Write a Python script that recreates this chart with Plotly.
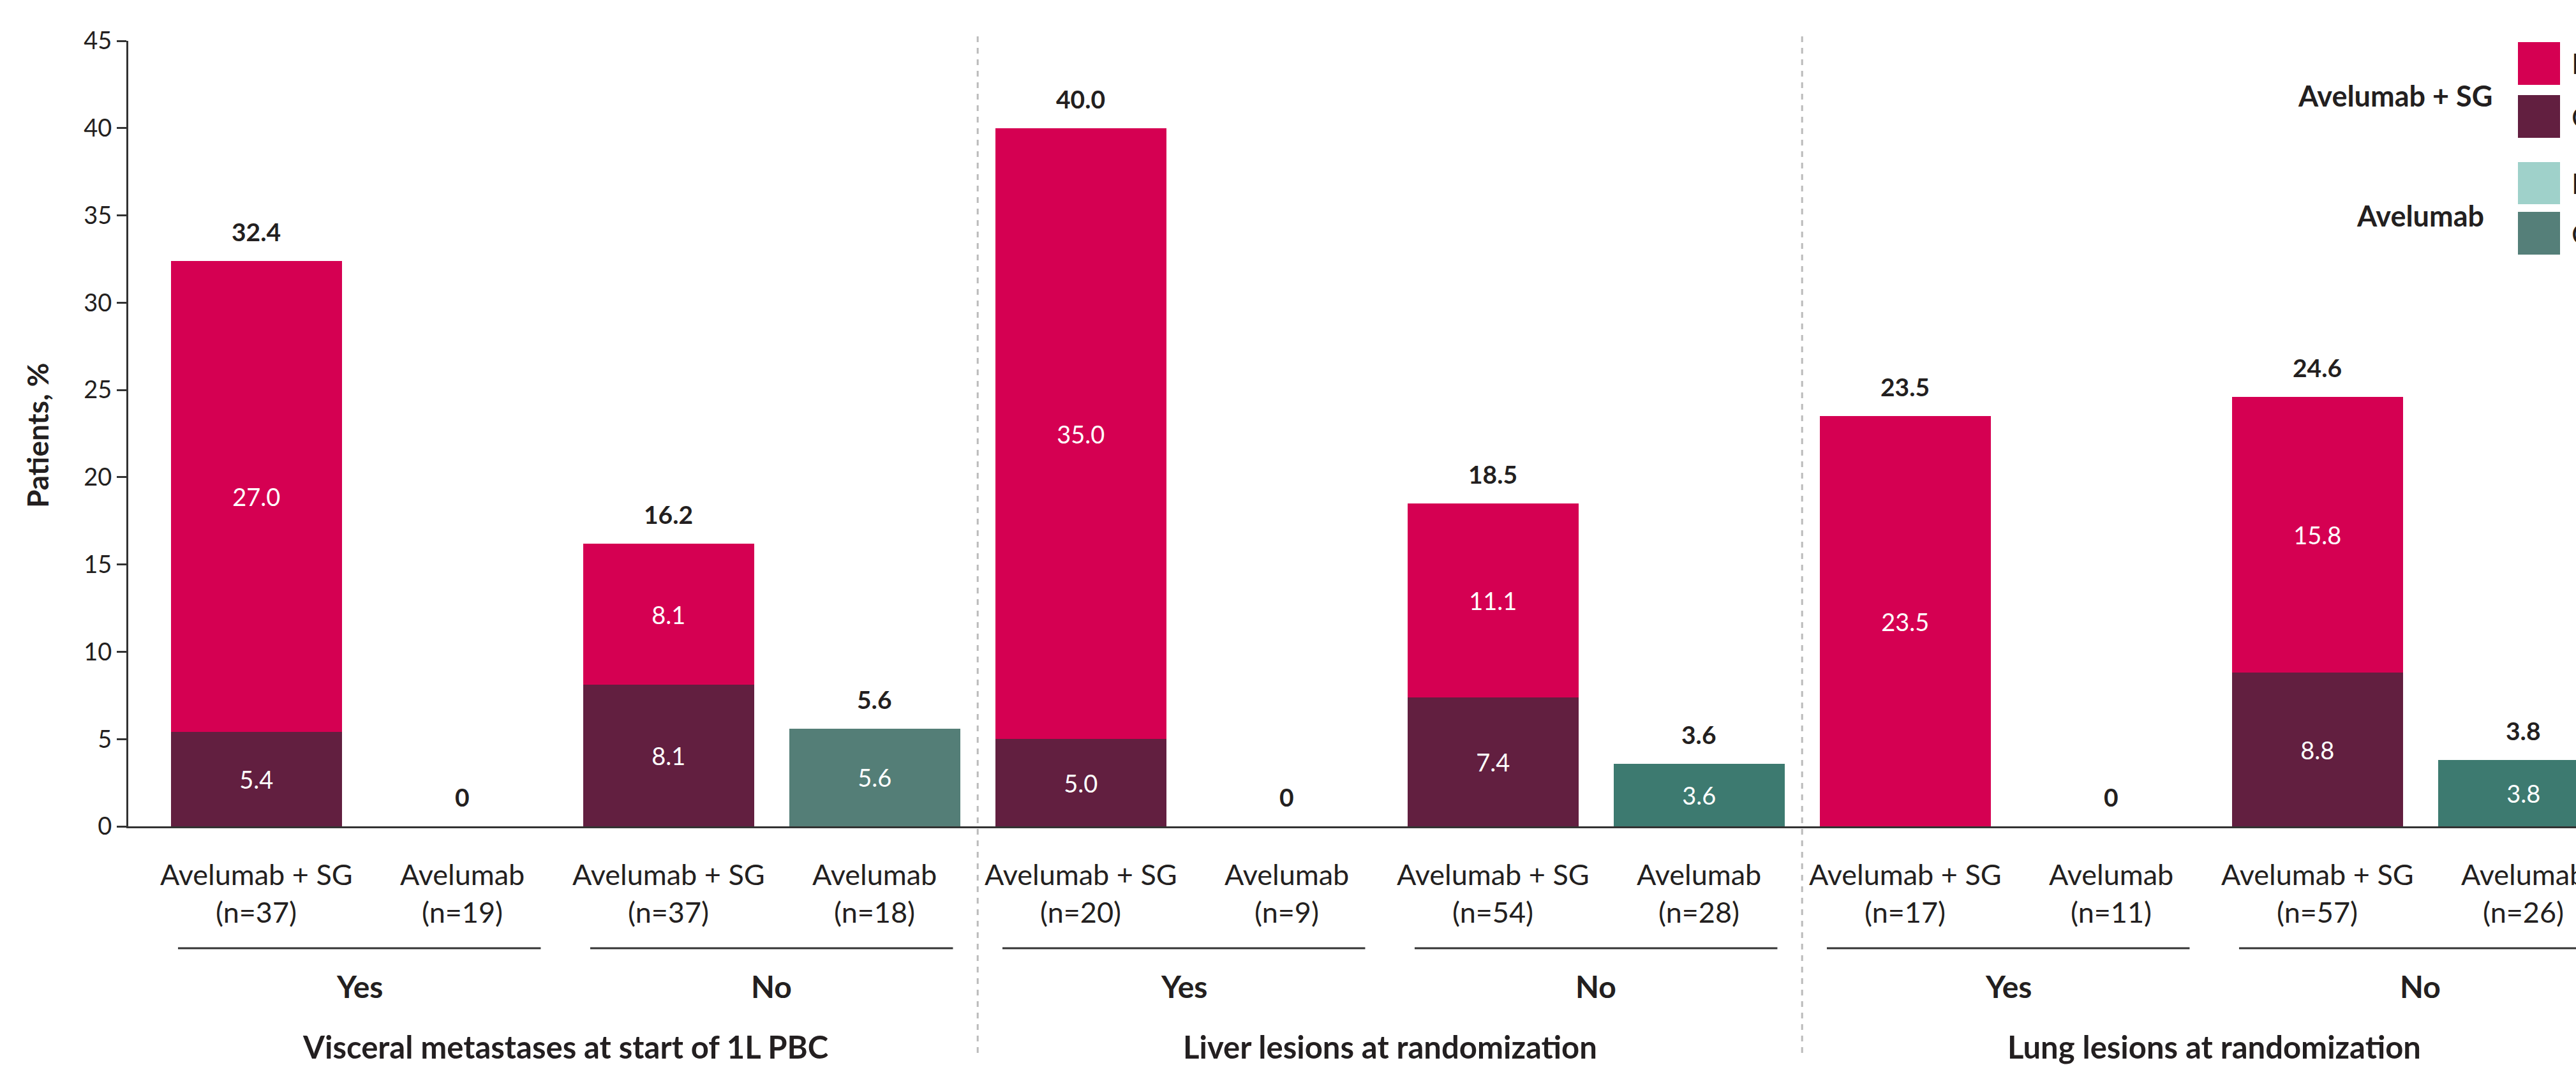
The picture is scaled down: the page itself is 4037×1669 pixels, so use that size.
import plotly.graph_objects as go

# ---------------- data ----------------
arm_labels = ["Avelumab + SG", "Avelumab"] * 6
n_labels = ["(n=37)", "(n=19)", "(n=37)", "(n=18)",
            "(n=20)", "(n=9)", "(n=54)", "(n=28)",
            "(n=17)", "(n=11)", "(n=57)", "(n=26)"]
subgroup_labels = ["Yes", "No", "Yes", "No", "Yes", "No"]
section_labels = ["Visceral metastases at start of 1L PBC",
                  "Liver lesions at randomization",
                  "Lung lesions at randomization"]

sg_cr = [5.4, 8.1, 5.0, 7.4, 0.0, 8.8]
sg_pr = [27.0, 8.1, 35.0, 11.1, 23.5, 15.8]
ave_cr = [0.0, 5.6, 0.0, 3.6, 0.0, 3.8]
ave_pr = [0.0, 0.0, 0.0, 0.0, 0.0, 0.0]
totals = [32.4, 0, 16.2, 5.6, 40.0, 0, 18.5, 3.6, 23.5, 0, 24.6, 3.8]

legend_groups = ["Avelumab + SG", "Avelumab"]
legend_items = ["PR", "CR"]

# ---------------- styles ----------------
PINK = "#D50052"
PLUM = "#621F40"
LTEAL = "#9FD1CA"
DTEAL_LEG = "#557F79"
ave_cr_colors = ["#547E77", "#547E77", "#3D7A70", "#3D7A70", "#3D7A70", "#3D7A70"]
TXT = "#231F20"
FONT = "Lato"

W, H = 4037, 1669
L, R, T, B = 201, 0, 64, 374
PW = W - L - R
PH = H - T - B


def px(xp):
    return (xp - L) / PW


def py(yp):
    return (H - B - yp) / PH


sg_x = list(range(0, 12, 2))
ave_x = list(range(1, 12, 2))
BW = 0.83


def lab(v):
    return [f"{x:.1f}" if x > 0 else "" for x in v]


fig = go.Figure()
for xs, ys, col in [(sg_x, sg_cr, PLUM), (sg_x, sg_pr, PINK), (ave_x, ave_cr, ave_cr_colors), (ave_x, ave_pr, LTEAL)]:
    fig.add_trace(go.Bar(x=xs, y=ys, width=BW, marker=dict(color=col, line=dict(width=0)),
                         text=lab(ys), textposition="inside", insidetextanchor="middle",
                         insidetextfont=dict(color="white", size=38, family=FONT)))

ann = []
shapes = []
# totals above bars
for i, t in enumerate(totals):
    ann.append(dict(x=i, y=t, xref="x", yref="y", text=f"<b>{t:.1f}</b>" if t > 0 else "<b>0</b>",
                    showarrow=False, yanchor="middle", yshift=46,
                    font=dict(size=39, color=TXT, family=FONT)))
# category labels
for i in range(12):
    ann.append(dict(x=i, y=py(1370), xref="x", yref="paper", text=arm_labels[i], showarrow=False,
                    yanchor="middle", font=dict(size=45, color=TXT, family=FONT)))
    ann.append(dict(x=i, y=py(1429), xref="x", yref="paper", text=n_labels[i], showarrow=False,
                    yanchor="middle", font=dict(size=45, color=TXT, family=FONT)))
# subgroup labels & lines
for g in range(6):
    i0, i1 = 2 * g, 2 * g + 1
    shapes.append(dict(type="line", xref="x", yref="paper", x0=i0 - 0.38, x1=i1 + 0.38,
                       y0=py(1486), y1=py(1486), line=dict(color="#333333", width=3)))
    ann.append(dict(x=(i0 + i1) / 2, y=py(1545), xref="x", yref="paper",
                    text=f"<b>{subgroup_labels[g]}</b>", showarrow=False, yanchor="middle",
                    font=dict(size=48, color=TXT, family=FONT)))
# section labels & dividers
for s in range(3):
    ann.append(dict(x=4 * s + 1.5, y=py(1640), xref="x", yref="paper",
                    text=f"<b>{section_labels[s]}</b>", showarrow=False, yanchor="middle",
                    font=dict(size=49, color=TXT, family=FONT)))
for d in [3.5, 7.5]:
    shapes.append(dict(type="line", xref="x", yref="paper", x0=d, x1=d,
                       y0=py(1650), y1=py(50), line=dict(color="#BBBBBB", width=3, dash="dash")))

# y-axis title
ann.append(dict(x=px(58), y=py(682), xref="paper", yref="paper", text="<b>Patients, %</b>",
                textangle=-90, showarrow=False, xanchor="center", yanchor="middle",
                font=dict(size=46, color=TXT, family=FONT)))

# legend (cropped at right edge like the reference)
sq = [(66, 133, PINK), (149, 216, PLUM), (254, 320, LTEAL), (332, 399, DTEAL_LEG)]
for (y0, y1, c) in sq:
    shapes.append(dict(type="rect", xref="paper", yref="paper", x0=px(3946), x1=px(4012),
                       y0=py(y1), y1=py(y0), fillcolor=c, line=dict(width=0)))
for k, (y0, y1, c) in enumerate(sq):
    ann.append(dict(x=px(4028), y=py((y0 + y1) / 2), xref="paper", yref="paper",
                    text=legend_items[k % 2], showarrow=False, xanchor="left", yanchor="middle",
                    font=dict(size=44, color=TXT, family=FONT)))
ann.append(dict(x=px(3908), y=py(150), xref="paper", yref="paper", text=f"<b>{legend_groups[0]}</b>",
                showarrow=False, xanchor="right", yanchor="middle", font=dict(size=45, color=TXT, family=FONT)))
ann.append(dict(x=px(3895), y=py(338), xref="paper", yref="paper", text=f"<b>{legend_groups[1]}</b>",
                showarrow=False, xanchor="right", yanchor="middle", font=dict(size=45, color=TXT, family=FONT)))

x0r = (L - 401.7) / 323.0
x1r = (W - R - 401.7) / 323.0

fig.update_layout(
    width=W, height=H, barmode="stack", showlegend=False,
    margin=dict(l=L, r=R, t=T, b=B, pad=0),
    paper_bgcolor="white", plot_bgcolor="white",
    font=dict(family=FONT, color=TXT),
    xaxis=dict(range=[x0r, x1r], showticklabels=False, ticks="", showgrid=False, zeroline=False,
               showline=True, linecolor="#333333", linewidth=3),
    yaxis=dict(range=[0, 45], dtick=5, tick0=0, ticks="outside", ticklen=15, tickwidth=3,
               tickcolor="#333333", showgrid=False, zeroline=False, showline=True,
               linecolor="#333333", linewidth=3, tickfont=dict(size=38, color=TXT, family=FONT)),
    annotations=ann, shapes=shapes,
)

fig.write_html("out.html")
